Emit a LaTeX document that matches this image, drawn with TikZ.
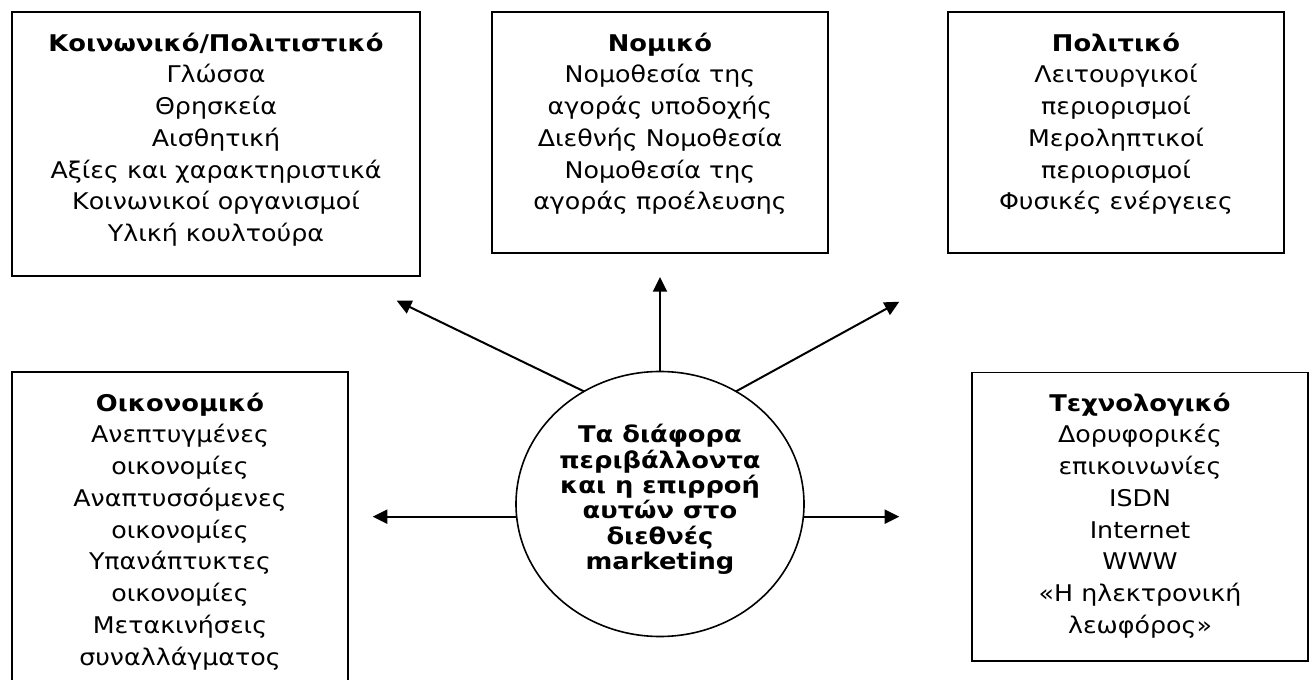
\documentclass[tikz,border=0pt]{standalone}
\usepackage{fontspec}
\setmainfont{DejaVu Sans}[FakeStretch=1.1, BoldFeatures={FakeStretch=1.12}]
\usetikzlibrary{arrows.meta,shapes.geometric}
\tikzset{
  frame/.style={draw=black, line width=1.3pt, rectangle, inner sep=0pt, outer sep=0pt},
  boxtext/.style={anchor=north, inner sep=0pt, align=center,
    font=\fontsize{17.25pt}{23.8pt}\selectfont},
  hub/.style={draw=black, line width=1.2pt, ellipse, inner sep=0pt, outer sep=0pt,
    minimum width=216pt, minimum height=198.75pt},
  hubtext/.style={anchor=north, inner sep=0pt, align=center,
    font=\fontsize{17.25pt}{19pt}\selectfont\bfseries},
  ray/.style={line width=1.5pt, -{Triangle[length=11pt, width=10.5pt]}}
}
\begin{document}
\begin{tikzpicture}[x=0.75pt, y=-0.75pt]
\useasboundingbox (0,0) rectangle (1313,680);
\clip (0,0) rectangle (1313,680);
\fill[white] (0,0) rectangle (1313,680);

% boxes
\node[frame, anchor=north west, minimum width=306pt, minimum height=198pt] (soc) at (12,12) {};
\node[frame, anchor=north west, minimum width=252pt, minimum height=180.75pt] (law) at (492,12) {};
\node[frame, anchor=north west, minimum width=252pt, minimum height=180.75pt] (pol) at (948,12) {};
\node[frame, anchor=north west, minimum width=252pt, minimum height=246pt] (eco) at (12,372) {};
\node[frame, anchor=north west, minimum width=252pt, minimum height=216.4pt] (tech) at (972,372.5) {};

% box texts
\node[boxtext] (soct) at (216,32.5) {\textbf{Κοινωνικό/Πολιτιστικό}\\Γλώσσα\\Θρησκεία\\Αισθητική\\Αξίες και χαρακτηριστικά\\Κοινωνικοί οργανισμοί\\Υλική κουλτούρα};
\node[boxtext] (lawt) at (660,32.5) {\textbf{Νομικό}\\Νομοθεσία της\\αγοράς υποδοχής\\Διεθνής Νομοθεσία\\Νομοθεσία της\\αγοράς προέλευσης};
\node[boxtext] (polt) at (1116,32.5) {\textbf{Πολιτικό}\\Λειτουργικοί\\περιορισμοί\\Μεροληπτικοί\\περιορισμοί\\Φυσικές ενέργειες};
\node[boxtext] (ecot) at (180,392.5) {\textbf{Οικονομικό}\\Ανεπτυγμένες\\οικονομίες\\Αναπτυσσόμενες\\οικονομίες\\Υπανάπτυκτες\\οικονομίες\\Μετακινήσεις\\συναλλάγματος};
\node[boxtext] (techt) at (1140,392.5) {\textbf{Τεχνολογικό}\\Δορυφορικές\\επικοινωνίες\\ISDN\\Internet\\WWW\\«Η ηλεκτρονική\\λεωφόρος»};

% hub
\node[hub] (c) at (660,504) {};
\node[hubtext] (ct) at (660,424.2) {Τα διάφορα\\περιβάλλοντα\\και η επιρροή\\αυτών στο\\διεθνές\\marketing};

% arrow tips
\coordinate (tipTL) at (396.7,300.7);
\coordinate (tipU) at (660,277);
\coordinate (tipTR) at (899.3,301.7);
\coordinate (tipL) at (372.7,516.7);
\coordinate (tipR) at (899.3,516.7);

\draw[ray] (c.124) -- (tipTL);
\draw[ray] (c.north) -- (tipU);
\draw[ray] (c.56) -- (tipTR);
\draw[ray] (c.west |- tipL) -- (tipL);
\draw[ray] (c.east |- tipR) -- (tipR);
\end{tikzpicture}
\end{document}
